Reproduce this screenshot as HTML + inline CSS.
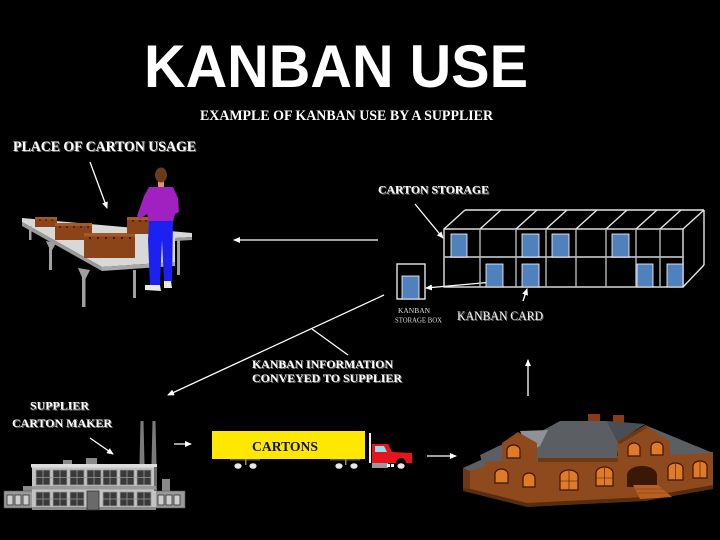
<!DOCTYPE html>
<html><head><meta charset="utf-8"><style>
html,body{margin:0;padding:0;background:#000;}
svg{display:block;}
.s{font-family:"Liberation Serif",serif;font-weight:bold;}
</style></head><body>
<svg width="720" height="540" viewBox="0 0 720 540" xmlns="http://www.w3.org/2000/svg">
<defs>
<marker id="ah" markerWidth="7" markerHeight="6" refX="6" refY="3" orient="auto" markerUnits="userSpaceOnUse">
<path d="M0,0 L7,3 L0,6 z" fill="#fff"/>
</marker>
</defs>
<rect width="720" height="540" fill="#000"/>

<!-- Title -->
<text x="144" y="87" font-family="Liberation Sans, sans-serif" font-weight="bold" font-size="60" fill="#fff" textLength="384" lengthAdjust="spacingAndGlyphs">KANBAN USE</text>
<text class="s" x="200" y="120" font-size="15" fill="#fff" textLength="293" lengthAdjust="spacingAndGlyphs">EXAMPLE OF KANBAN USE BY A SUPPLIER</text>

<!-- Labels with shadow -->
<g class="s" fill="#777">
<text x="14" y="152" font-size="14.5" textLength="183" lengthAdjust="spacingAndGlyphs">PLACE OF CARTON USAGE</text>
<text x="379" y="194.5" font-size="11.5" textLength="111" lengthAdjust="spacingAndGlyphs">CARTON STORAGE</text>
<text x="253" y="369" font-size="12" textLength="141" lengthAdjust="spacingAndGlyphs">KANBAN INFORMATION</text>
<text x="253" y="383" font-size="12" textLength="150" lengthAdjust="spacingAndGlyphs">CONVEYED TO SUPPLIER</text>
<text x="31" y="410.5" font-size="11.5" textLength="59" lengthAdjust="spacingAndGlyphs">SUPPLIER</text>
<text x="13" y="428" font-size="11.5" textLength="100" lengthAdjust="spacingAndGlyphs">CARTON MAKER</text>
</g>
<g class="s" fill="#fff">
<text x="13" y="151" font-size="14.5" textLength="183" lengthAdjust="spacingAndGlyphs">PLACE OF CARTON USAGE</text>
<text x="378" y="193.5" font-size="11.5" textLength="111" lengthAdjust="spacingAndGlyphs">CARTON STORAGE</text>
<text x="252" y="368" font-size="12" textLength="141" lengthAdjust="spacingAndGlyphs">KANBAN INFORMATION</text>
<text x="252" y="382" font-size="12" textLength="150" lengthAdjust="spacingAndGlyphs">CONVEYED TO SUPPLIER</text>
<text x="30" y="409.5" font-size="11.5" textLength="59" lengthAdjust="spacingAndGlyphs">SUPPLIER</text>
<text x="12" y="427" font-size="11.5" textLength="100" lengthAdjust="spacingAndGlyphs">CARTON MAKER</text>
</g>
<text x="458" y="321" font-family="Liberation Serif, serif" font-size="13" fill="#777" textLength="86" lengthAdjust="spacingAndGlyphs">KANBAN CARD</text>
<text x="457" y="320" font-family="Liberation Serif, serif" font-size="13" fill="#eee" textLength="86" lengthAdjust="spacingAndGlyphs">KANBAN CARD</text>
<text x="414" y="313" font-family="Liberation Serif, serif" font-size="7.5" fill="#ddd" text-anchor="middle">KANBAN</text>
<text x="395" y="322.5" font-family="Liberation Serif, serif" font-size="7.5" fill="#ddd" textLength="47" lengthAdjust="spacingAndGlyphs">STORAGE BOX</text>

<!-- Arrows -->
<g stroke="#fff" stroke-width="1.3" fill="none">
<line x1="90" y1="162" x2="107" y2="208" marker-end="url(#ah)"/>
<line x1="378" y1="240" x2="234" y2="240" marker-end="url(#ah)"/>
<line x1="415" y1="204" x2="443" y2="238" marker-end="url(#ah)"/>
<line x1="493" y1="282" x2="426" y2="288" marker-end="url(#ah)"/>
<line x1="523" y1="301" x2="527" y2="289" marker-end="url(#ah)"/>
<line x1="384" y1="295" x2="168" y2="395" marker-end="url(#ah)"/>
<line x1="312" y1="329" x2="348" y2="355"/>
<line x1="90" y1="438" x2="113" y2="454" marker-end="url(#ah)"/>
<line x1="174" y1="444" x2="191" y2="444" marker-end="url(#ah)"/>
<line x1="427" y1="456" x2="456" y2="456" marker-end="url(#ah)"/>
<line x1="528" y1="396" x2="528" y2="360" marker-end="url(#ah)"/>
</g>

<!-- Table -->
<g>
<polygon points="22,218 192,233 192,237 175,238 175,262 102,267 22,222" fill="#d8d8d8"/>
<polygon points="22,222 102,267 102,271 22,226" fill="#9a9a9a"/>
<polygon points="102,267 175,262 175,266 102,271" fill="#a8a8a8"/>
<polygon points="175,238 192,237 192,240 175,241" fill="#9a9a9a"/>
<g fill="#a0a0a0">
<rect x="29" y="226" width="2.5" height="14"/>
<rect x="49" y="243" width="3" height="27"/>
<polygon points="46,241 56,243 51,252"/>
<rect x="82" y="270" width="3.5" height="37"/>
<polygon points="78,268 90,270 84,282"/>
<rect x="133" y="270" width="3" height="28"/>
<rect x="177" y="240" width="3" height="35"/>
</g>
<!-- boxes -->
<g>
<rect x="35" y="217" width="22" height="10" fill="#8a4418"/>
<rect x="35" y="217" width="22" height="2.5" fill="#a35a28"/>
<rect x="55" y="223" width="37" height="17" fill="#8a4418"/>
<rect x="55" y="223" width="37" height="3" fill="#a35a28"/>
<rect x="84" y="233" width="51" height="25" fill="#8a4418"/>
<rect x="84" y="233" width="51" height="3.5" fill="#a35a28"/>
<rect x="127" y="217" width="23" height="17" fill="#8a4418"/>
<rect x="127" y="217" width="23" height="3" fill="#a35a28"/>
<g fill="#2a1005">
<circle cx="40" cy="220" r="0.8"/><circle cx="46" cy="220" r="0.8"/><circle cx="52" cy="220" r="0.8"/>
<circle cx="60" cy="227" r="0.9"/><circle cx="67" cy="227" r="0.9"/><circle cx="74" cy="227" r="0.9"/><circle cx="81" cy="227" r="0.9"/><circle cx="88" cy="227" r="0.9"/>
<circle cx="90" cy="238" r="1"/><circle cx="98" cy="238" r="1"/><circle cx="106" cy="238" r="1"/><circle cx="114" cy="238" r="1"/><circle cx="122" cy="238" r="1"/><circle cx="130" cy="238" r="1"/>
<circle cx="133" cy="221" r="0.9"/><circle cx="140" cy="221" r="0.9"/><circle cx="146" cy="221" r="0.9"/>
</g>
</g>
<!-- person -->
<g>
<rect x="158" y="180" width="6" height="7" fill="#d9966a"/>
<ellipse cx="161" cy="175" rx="6" ry="7.5" fill="#6b3a1a"/>
<polygon points="149,187 173,187 178,198 179,212 175,214 173,222 149,222 147,214 140,219 137,216 144,196" fill="#a020c0"/>
<polygon points="149,221 173,221 172,282 164,282 162,240 160,285 150,285 148,240" fill="#1c20f0"/>
<polygon points="145,285 160,285 161,291 145,290" fill="#e8e8e8"/>
<polygon points="164,281 171,281 172,288 164,288" fill="#e8e8e8"/>
</g>
</g>

<!-- Carton storage -->
<g stroke="#e6e6e6" stroke-width="1.4" fill="none">
<rect x="444" y="229" width="239" height="58"/>
<line x1="465" y1="210" x2="704" y2="210"/>
<line x1="704" y1="210" x2="704" y2="265"/>
<line x1="704" y1="265" x2="683" y2="287"/>
<line x1="444" y1="229" x2="465" y2="210"/>
<line x1="480" y1="229" x2="501" y2="210"/>
<line x1="516" y1="229" x2="537" y2="210"/>
<line x1="546" y1="229" x2="567" y2="210"/>
<line x1="576" y1="229" x2="597" y2="210"/>
<line x1="606" y1="229" x2="627" y2="210"/>
<line x1="636" y1="229" x2="657" y2="210"/>
<line x1="660" y1="229" x2="681" y2="210"/>
<line x1="683" y1="229" x2="704" y2="210"/>
<g stroke="#b8b8b8">
<line x1="480" y1="229" x2="480" y2="287"/>
<line x1="516" y1="229" x2="516" y2="287"/>
<line x1="546" y1="229" x2="546" y2="287"/>
<line x1="576" y1="229" x2="576" y2="287"/>
<line x1="606" y1="229" x2="606" y2="287"/>
<line x1="636" y1="229" x2="636" y2="287"/>
<line x1="660" y1="229" x2="660" y2="287"/>
<line x1="444" y1="257" x2="684" y2="257" stroke-width="1.8"/>
</g>
<rect x="397" y="264" width="28" height="35"/>
</g>
<g fill="#4f81bd" stroke="#fff" stroke-width="0.8">
<rect x="451" y="234" width="16" height="23"/>
<rect x="522" y="234" width="17" height="23"/>
<rect x="552" y="234" width="17" height="23"/>
<rect x="612" y="234" width="17" height="23"/>
<rect x="486" y="264" width="17" height="23"/>
<rect x="522" y="264" width="17" height="23"/>
<rect x="637" y="264" width="16" height="23"/>
<rect x="667" y="264" width="16" height="23"/>
<rect x="402" y="276" width="17" height="23"/>
</g>

<!-- Factory -->
<g>
<polygon points="139.5,464 140.5,421 143.5,421 144.5,464" fill="#7a7a7a"/>
<polygon points="151.5,464 152.5,421 155.5,421 156.5,464" fill="#7a7a7a"/>
<rect x="63" y="460" width="9" height="4" fill="#8a8a8a"/>
<rect x="86" y="458" width="11" height="6" fill="#8a8a8a"/>
<rect x="162" y="479" width="8" height="12" fill="#8a8a8a"/>
<rect x="23" y="486" width="9" height="5" fill="#8a8a8a"/>
<rect x="4" y="491" width="30" height="17" fill="#9a9a9a" stroke="#555" stroke-width="0.6"/>
<rect x="154" y="491" width="31" height="17" fill="#9a9a9a" stroke="#555" stroke-width="0.6"/>
<rect x="32" y="466" width="124" height="44" fill="#c4c4c4"/>
<rect x="31" y="464" width="126" height="3.5" fill="#dcdcdc"/>
<rect x="154" y="467" width="3" height="24" fill="#6a6a6a"/>
<rect x="32" y="486" width="124" height="3.5" fill="#9a9a9a"/>
<rect x="32" y="507" width="124" height="3" fill="#8a8a8a"/>
<g fill="#cfcfcf" stroke="#333" stroke-width="0.8">
<rect x="7" y="495" width="6" height="10"/><rect x="15" y="495" width="6" height="10"/><rect x="23" y="495" width="6" height="10"/>
<rect x="158" y="495" width="6" height="10"/><rect x="166" y="495" width="6" height="10"/><rect x="174" y="495" width="6" height="10"/>
</g>
<g fill="#3a3a3a" stroke="#999" stroke-width="0.8">
<rect x="36" y="470" width="14" height="15"/><rect x="53" y="470" width="14" height="15"/><rect x="70" y="470" width="14" height="15"/><rect x="87" y="470" width="14" height="15"/><rect x="103" y="470" width="14" height="15"/><rect x="120" y="470" width="14" height="15"/><rect x="137" y="470" width="14" height="15"/>
<rect x="36" y="492" width="14" height="14"/><rect x="53" y="492" width="14" height="14"/><rect x="70" y="492" width="14" height="14"/><rect x="103" y="492" width="14" height="14"/><rect x="120" y="492" width="14" height="14"/><rect x="137" y="492" width="14" height="14"/>
</g>
<g stroke="#999" stroke-width="0.8">
<line x1="43" y1="470" x2="43" y2="485"/><line x1="60" y1="470" x2="60" y2="485"/><line x1="77" y1="470" x2="77" y2="485"/><line x1="94" y1="470" x2="94" y2="485"/><line x1="110" y1="470" x2="110" y2="485"/><line x1="127" y1="470" x2="127" y2="485"/><line x1="144" y1="470" x2="144" y2="485"/>
<line x1="36" y1="477.5" x2="151" y2="477.5"/>
<line x1="43" y1="492" x2="43" y2="506"/><line x1="60" y1="492" x2="60" y2="506"/><line x1="77" y1="492" x2="77" y2="506"/><line x1="110" y1="492" x2="110" y2="506"/><line x1="127" y1="492" x2="127" y2="506"/><line x1="144" y1="492" x2="144" y2="506"/>
<line x1="36" y1="499" x2="84" y2="499"/><line x1="103" y1="499" x2="151" y2="499"/>
</g>
<rect x="87" y="491" width="12" height="19" fill="#6a6a6a" stroke="#333" stroke-width="0.8"/>
</g>

<!-- Truck -->
<g>
<rect x="212" y="431" width="153" height="28" fill="#ffe800"/>
<text x="252" y="451" font-family="Liberation Serif, serif" font-weight="bold" font-size="14" fill="#111" textLength="66" lengthAdjust="spacingAndGlyphs">CARTONS</text>
<rect x="230" y="459" width="30" height="1.5" fill="#555"/>
<rect x="330" y="459" width="30" height="1.5" fill="#555"/>
<rect x="245" y="459" width="1.5" height="6" fill="#888"/>
<rect x="345" y="459" width="1.5" height="6" fill="#888"/>
<rect x="369" y="433" width="2" height="30" fill="#f0f0f0"/>
<polygon points="372,444 388,444 392,452 412,453 412,463 372,463" fill="#e8141c"/>
<polygon points="375,446 384,446 387,452 375,452" fill="#8fe0f0"/>
<rect x="372" y="463" width="16" height="5" fill="#999"/>
<rect x="387" y="464" width="3" height="3" fill="#fff"/>
<rect x="391" y="464" width="3" height="3" fill="#fff"/>
<circle cx="401" cy="463" r="5" fill="#000"/>
<g fill="#e8e8e8">
<ellipse cx="238" cy="466" rx="3.6" ry="2.8"/>
<ellipse cx="253" cy="466" rx="3.6" ry="2.8"/>
<ellipse cx="339" cy="466" rx="3.6" ry="2.8"/>
<ellipse cx="354" cy="466" rx="3.6" ry="2.8"/>
<ellipse cx="401" cy="466" rx="3.6" ry="2.8"/>
</g>
</g>

<!-- House -->
<g>
<rect x="588" y="414" width="12" height="12" fill="#8b3a16"/>
<rect x="613" y="415" width="11" height="10" fill="#8b3a16"/>
<!-- walls -->
<polygon points="463,468 483,461 713,452 713,487 645,498 527,505 463,490" fill="#8e4a1c"/>
<polygon points="463,487 527,503 645,497 713,485 713,489 645,501 527,507 463,491" fill="#5a2c0e"/>
<polygon points="463,468 470,466 470,489 463,488" fill="#6e3812"/>
<!-- roofs -->
<polygon points="463,468 483,459 486,466 470,471" fill="#5b5e63"/>
<polygon points="480,455 503,444 520,448 520,460 482,462" fill="#5b5e63"/>
<polygon points="540,432 560,421 607,421 618,442 617,458 538,462 530,455" fill="#5b5e63"/>
<polygon points="520,431 548,430 540,446 530,452" fill="#8e9197"/>
<polygon points="645,425 713,453 670,455 660,440" fill="#5b5e63"/>
<polygon points="607,421 645,424 618,442" fill="#4a4d52"/>
<!-- gables -->
<polygon points="518,432 502,443 502,460 537,460 537,443" fill="#8e4a1c"/>
<polygon points="645,425 617,442 618,460 670,460 670,442" fill="#8e4a1c"/>
<polygon points="617,442 645,425 647,428 620,444" fill="#6e3812"/>
<rect x="538" y="458" width="80" height="4" fill="#6e3812"/>
<!-- windows -->
<g fill="#e07a28" stroke="#3a1806" stroke-width="1.2">
<path d="M507,458 v-8 a6.5,5 0 0 1 13,0 v8 z"/>
<path d="M628,456 v-8 a6,5 0 0 1 12,0 v8 z"/>
<path d="M651,455 v-8 a6,5 0 0 1 12,0 v8 z"/>
<path d="M495,483 v-9 a6.5,5 0 0 1 13,0 v9 z"/>
<path d="M523,487 v-9 a6,5 0 0 1 12,0 v9 z"/>
<path d="M560,490 v-14 a9,6 0 0 1 18,0 v14 z"/>
<path d="M596,486 v-13 a8.5,6 0 0 1 17,0 v13 z"/>
<path d="M668,480 v-12 a7.5,5 0 0 1 15,0 v12 z"/>
<path d="M693,478 v-12 a7,5 0 0 1 14,0 v12 z"/>
</g>
<g stroke="#3a1806" stroke-width="0.6">
<line x1="569" y1="471" x2="569" y2="490"/><line x1="560" y1="481" x2="578" y2="481"/>
<line x1="604.5" y1="468" x2="604.5" y2="486"/><line x1="596" y1="478" x2="613" y2="478"/>
<line x1="675.5" y1="464" x2="675.5" y2="480"/><line x1="700" y1="462" x2="700" y2="478"/>
</g>
<path d="M627,487 v-12 a15,9 0 0 1 30,0 v12 z" fill="#3a1806"/>
<polygon points="633,485 658,485 672,497 640,499" fill="#b85f22"/>
<g stroke="#7a3a12" stroke-width="0.6">
<line x1="636" y1="489" x2="663" y2="489"/><line x1="638" y1="493" x2="667" y2="493"/>
</g>
</g>
</svg>
</body></html>
